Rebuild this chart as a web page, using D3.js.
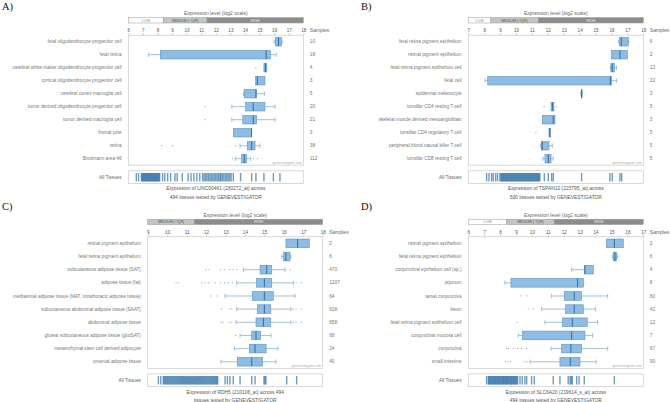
<!DOCTYPE html>
<html><head><meta charset="utf-8">
<script src="https://cdn.jsdelivr.net/npm/d3@7"></script>
<style>html,body{margin:0;padding:0;background:#fff;}svg{display:block;}</style>
</head><body>
<script>
// ---------- DATA ----------
const thresholds = [8.42, 11.4];           // LOW | MEDIUM | HIGH boundaries (log2)
const legendNames = ["LOW", "MEDIUM (~IQR)", "HIGH"];

// Panel A – LINC00461
const aLabels = ["fetal oligodendrocyte progenitor cell","fetal retina","cerebral white matter oligodendrocyte progenitor cell","cortical oligodendrocyte progenitor cell","cerebral cortex macroglia cell","tumor derived oligodendrocyte progenitor cell","tumor derived macroglia cell","frontal pole","retina","Brodmann area 46"];
const aSamples = [10,18,4,3,5,20,21,3,38,112];
const aStats = [[16.0,16.08,16.3,16.5,16.55],[7.4,8.2,15.45,15.75,16.15],[15.3,15.3,15.4,15.5,15.5],[14.73,14.73,14.85,15.37,15.37],[13.9,13.95,14.75,14.8,15.33],[13.1,14.05,14.57,15.37,16.06],[13.1,13.85,14.57,14.8,16.06],[13.2,13.2,14.45,14.46,14.46],[13.66,14.16,14.46,14.69,15.03],[13.34,13.77,13.95,14.11,14.39]];
const aOutliers = [[],[],[14.75],[],[],[11.26],[11.26],[],[8.29,9.04,13.36],[13.13,14.57,14.87]];
const aAll = [6.55,6.7,6.9,6.95,7.0,7.05,7.1,7.15,7.2,7.25,7.3,7.35,7.4,7.45,7.5,7.55,7.6,7.65,7.7,7.75,7.8,7.85,7.9,7.95,8.0,8.05,8.1,8.15,8.35,8.5,8.7,8.9,9.2,9.35,9.7,10.1,10.3,10.5,10.7,10.9,11.1,11.2,11.3,11.4,11.5,11.6,11.7,11.8,11.9,12.0,12.1,12.2,12.3,12.35,12.45,12.55,12.65,12.75,12.85,12.95,13.05,13.2,13.7,14.46,14.75,15.3,15.95,16.4];

// Panel B – TSPAN10
const bLabels = ["fetal retina pigment epithelium","retinal pigment epithelium","fetal retina pigment epithelium cell","fetal cell","epidermal melanocyte","tonsillar CD4 resting T-cell","skeletal muscle derived mesoangioblast","tonsillar CD4 regulatory T-cell","peripheral blood natural killer T-cell","tonsillar CD8 resting T-cell"];
const bSamples = [6,2,12,22,3,5,3,5,5,5];
const bStats = [[16.45,16.5,16.62,17.05,17.08],[16.0,16.0,16.53,17.0,17.0],[15.93,15.97,16.05,16.18,16.32],[8.05,8.22,15.93,16.0,16.32],[14.08,14.1,14.12,14.14,14.16],[12.2,12.2,12.3,12.38,12.38],[11.65,11.65,12.34,12.45,12.45],[12.07,12.07,12.12,12.17,12.17],[11.55,11.6,11.65,12.07,12.28],[11.7,11.82,12.03,12.2,12.34]];
const bOutliers = [[],[],[],[],[],[11.76,12.55],[],[11.25],[],[]];
const bAll = [8.15,8.3,8.47,8.57,8.72,8.84,8.99,9.05,9.1,9.15,9.2,9.25,9.3,9.35,9.4,9.45,9.5,9.55,9.6,9.65,9.7,9.75,9.8,9.85,9.9,9.95,10.0,10.05,10.1,10.15,10.2,10.25,10.3,10.35,10.4,10.45,10.5,10.55,10.6,10.65,10.7,10.75,10.8,10.85,10.9,10.95,11.0,11.05,11.1,11.15,11.2,11.25,11.3,11.35,11.4,11.45,11.5,11.78,12.03,12.24,12.34,14.12,15.9,16.05,16.53,16.64];

// Panel C – RDH5
const cLabels = ["retinal pigment epithelium","fetal retina pigment epithelium","subcutaneous adipose tissue (SAT)","adipose tissue (fat)","mediastinal adipose tissue (MAT, intrathoracic adipose tissue)","subcutaneous abdominal adipose tissue (SAAT)","abdominal adipose tissue","gluteal subcutaneous adipose tissue (glutSAT)","mesenchymal stem cell derived adipocyte","omental adipose tissue"];
const cSamples = [2,6,470,1207,64,618,658,69,24,40];
const cStats = [[16.11,16.11,16.71,17.31,17.31],[15.9,15.98,16.11,16.32,16.36],[13.92,14.78,15.12,15.38,16.06],[13.58,14.6,15.0,15.38,16.49],[12.98,14.38,15.0,15.46,16.58],[13.58,14.64,15.0,15.33,16.37],[13.54,14.57,14.95,15.33,16.37],[13.75,14.35,14.57,14.81,15.34],[13.46,14.23,14.52,15.09,15.69],[12.77,13.61,14.35,14.91,15.6]];
const cOutliers = [[],[],[12.0,12.17,12.75,12.94,13.23,13.4,13.6,16.32],[10.46,10.58,11.78,11.95,12.12,12.46,12.75,12.95,13.15,13.35,16.63,16.89],[12.24,12.58],[12.8,13.2,13.32,16.49,16.63,16.89],[12.75,12.86,13.2,13.32,16.49,16.63,16.89],[13.53],[],[]];
const cAll = [9.55,9.67,9.8,9.85,9.9,9.95,10.0,10.05,10.1,10.15,10.2,10.25,10.3,10.35,10.4,10.45,10.5,10.55,10.6,10.65,10.7,10.75,10.8,10.85,10.9,10.95,11.0,11.05,11.1,11.15,11.2,11.25,11.3,11.35,11.4,11.45,11.5,11.55,11.6,11.65,11.7,11.75,11.8,11.85,11.9,11.95,12.0,12.05,12.1,12.15,12.2,12.25,12.3,12.35,12.4,12.45,12.5,12.55,12.6,12.98,13.1,13.23,13.4,13.75,14.35,14.52,14.98,15.03,15.08,16.15,16.66];

// Panel D – SLC6A20
const dLabels = ["retinal pigment epithelium","fetal retina pigment epithelium","conjunctival epithelium cell (sp.)","jejunum","tarsal conjunctiva","ileum","fetal retina pigment epithelium cell","conjunctival mucosa cell","conjunctiva","small intestine"];
const dSamples = [2,6,4,8,60,42,12,7,67,90];
const dStats = [[14.69,14.69,15.18,15.74,15.74],[15.05,15.11,15.22,15.32,15.38],[12.5,13.29,13.33,13.86,13.86],[8.3,8.68,12.87,13.23,13.23],[11.24,12.03,12.66,13.12,14.76],[10.61,12.12,12.66,13.23,14.0],[10.82,11.91,12.54,13.48,14.13],[9.14,9.41,12.5,13.33,13.81],[11.2,11.87,12.45,13.12,14.76],[9.88,11.76,12.41,13.02,14.03]];
const dOutliers = [[],[],[],[],[9.29,9.67],[9.77,10.08],[9.04],[],[8.41,8.52,8.83,9.1,9.35,9.67],[8.35,8.47,8.66,9.52,9.67]];
const dAll = [7.15,7.26,7.3,7.35,7.4,7.45,7.5,7.55,7.6,7.65,7.7,7.75,7.8,7.85,7.9,7.95,8.0,8.05,8.1,8.15,8.2,8.25,8.3,8.35,8.4,8.45,8.5,8.55,8.6,8.65,8.7,8.75,8.8,8.85,8.9,8.95,9.0,9.05,9.1,9.25,9.39,9.56,9.67,9.98,10.15,11.34,11.76,12.28,12.4,12.47,12.54,12.81,12.96,13.29,15.18];

const aTicks = d3.range(6, 19), bTicks = d3.range(7, 19), cTicks = d3.range(9, 19), dTicks = d3.range(6, 18);

const panels = [
  {tag:"A)", labels:aLabels, samples:aSamples, stats:aStats, outliers:aOutliers, all:aAll, domain:[6,18], ticks:aTicks,
   caption:["Expression of LINC00461 (230272_at) across","494 tissues tested by GENEVESTIGATOR"],
   ox:0, x0:128.3, x1:303.3, top:35.2, step:13.0, tagX:2, tagY:10},
  {tag:"B)", labels:bLabels, samples:bSamples, stats:bStats, outliers:bOutliers, all:bAll, domain:[7,18], ticks:bTicks,
   caption:["Expression of TSPAN10 (223795_at) across","500 tissues tested by GENEVESTIGATOR"],
   ox:335, x0:468.3, x1:643.3, top:35.2, step:13.0, tagX:361, tagY:10},
  {tag:"C)", labels:cLabels, samples:cSamples, stats:cStats, outliers:cOutliers, all:cAll, domain:[9,18], ticks:cTicks,
   caption:["Expression of RDH5 (210106_at) across 494","tissues tested by GENEVESTIGATOR"],
   ox:0, x0:147.7, x1:322.7, top:236.8, step:13.15, tagX:2, tagY:210},
  {tag:"D)", labels:dLabels, samples:dSamples, stats:dStats, outliers:dOutliers, all:dAll, domain:[6,17], ticks:dTicks,
   caption:["Expression of SLC6A20 (219614_s_at) across","494 tissues tested by GENEVESTIGATOR"],
   ox:335, x0:468.3, x1:643.3, top:236.8, step:13.15, tagX:361, tagY:210}
];

// ---------- DRAW ----------
const W = 670, H = 402;
const svg = d3.select("body").append("svg").attr("width", W).attr("height", H)
  .style("font-family", "'Liberation Sans', Arial, Helvetica, sans-serif");

const boxFill = "#8fbce2", boxStroke = "#5a94c6", medColor = "#2d6da6", whiskColor = "#77a5cf";
const txtGray = "#777";

panels.forEach(p => {
  const g = svg.append("g");
  const x = d3.scaleLinear().domain(p.domain).range([p.x0, p.x1]);
  const n = p.labels.length;
  const bottom = p.top + n * p.step;
  const y = d3.scaleBand().domain(d3.range(n)).range([p.top, bottom]);
  const bh = p.step * 0.66;
  const cx = (p.x0 + p.x1) / 2;

  // panel tag
  g.append("text").attr("x", p.tagX).attr("y", p.tagY).text(p.tag)
    .style("font-family", "'Liberation Serif', 'DejaVu Serif', serif").style("font-size", "10.5px").attr("fill", "#111");

  // legend title
  g.append("text").attr("x", cx).attr("y", p.top - 19.8).attr("text-anchor", "middle")
    .style("font-size", "5px").attr("fill", "#666").text("Expression level (log2 scale)");

  // legend bar
  const lgY = p.top - 17.6, lgH = 5.4;
  const segs = [
    {a:p.domain[0], b:thresholds[0], fill:"#ffffff", tc:"#888", name:legendNames[0]},
    {a:thresholds[0], b:thresholds[1], fill:"#c4c4c4", tc:"#555", name:legendNames[1]},
    {a:thresholds[1], b:p.domain[1], fill:"#8c8c8c", tc:"#eee", name:legendNames[2]}
  ].map(s => ({...s, a:Math.max(s.a, p.domain[0]), b:Math.min(s.b, p.domain[1])})).filter(s => s.b > s.a);
  segs.forEach(s => {
    g.append("rect").attr("x", x(s.a)).attr("y", lgY).attr("width", x(s.b) - x(s.a)).attr("height", lgH)
      .attr("fill", s.fill).attr("stroke", "#9a9a9a").attr("stroke-width", 0.5);
    g.append("text").attr("x", (x(s.a) + x(s.b)) / 2).attr("y", lgY + lgH / 2 + 1.3).attr("text-anchor", "middle")
      .style("font-size", "3.6px").attr("fill", s.tc).text(s.name);
  });

  // ticks
  const axis = d3.axisTop(x).tickValues(p.ticks).tickSize(1.6).tickPadding(1.2).tickFormat(d3.format("d"));
  const ax = g.append("g").attr("transform", `translate(0,${p.top - 0.5})`).call(axis);
  ax.select(".domain").remove();
  ax.selectAll("line").attr("stroke", "#888").attr("stroke-width", 0.5);
  ax.selectAll("text").style("font-size", "4.6px").attr("fill", "#555").style("font-family", "'Liberation Sans', Arial, sans-serif");

  // Samples header
  g.append("text").attr("x", p.x1 + 6.5).attr("y", p.top - 3).style("font-size", "5px").attr("fill", "#666").text("Samples");

  // plot frame
  g.append("rect").attr("x", p.x0).attr("y", p.top).attr("width", p.x1 - p.x0).attr("height", bottom - p.top)
    .attr("fill", "none").attr("stroke", "#c8c8c8").attr("stroke-width", 0.7);

  // row labels & samples
  p.labels.forEach((lab, i) => {
    const yc = y(i) + y.bandwidth() / 2;
    g.append("text").attr("x", p.x0 - 6.8).attr("y", yc + 1.6).attr("text-anchor", "end")
      .style("font-size", "4.7px").attr("fill", txtGray).text(lab);
    g.append("text").attr("x", p.x1 + 6.5).attr("y", yc + 1.6)
      .style("font-size", "4.8px").attr("fill", txtGray).text(p.samples[i]);
  });

  // boxes
  p.stats.forEach((s, i) => {
    const [wl, q1, md, q3, wh] = s;
    const yc = y(i) + y.bandwidth() / 2;
    const bg = g.append("g");
    if (wl < q1) {
      bg.append("line").attr("x1", x(wl)).attr("x2", x(q1)).attr("y1", yc).attr("y2", yc).attr("stroke", whiskColor).attr("stroke-width", 0.7);
      bg.append("line").attr("x1", x(wl)).attr("x2", x(wl)).attr("y1", yc - 2.2).attr("y2", yc + 2.2).attr("stroke", whiskColor).attr("stroke-width", 0.7);
    }
    if (wh > q3) {
      bg.append("line").attr("x1", x(q3)).attr("x2", x(wh)).attr("y1", yc).attr("y2", yc).attr("stroke", whiskColor).attr("stroke-width", 0.7);
      bg.append("line").attr("x1", x(wh)).attr("x2", x(wh)).attr("y1", yc - 2.2).attr("y2", yc + 2.2).attr("stroke", whiskColor).attr("stroke-width", 0.7);
    }
    bg.append("rect").attr("x", x(q1)).attr("y", yc - bh / 2).attr("width", Math.max(0.8, x(q3) - x(q1))).attr("height", bh)
      .attr("fill", boxFill).attr("stroke", boxStroke).attr("stroke-width", 0.6);
    bg.append("line").attr("x1", x(md)).attr("x2", x(md)).attr("y1", yc - bh / 2).attr("y2", yc + bh / 2)
      .attr("stroke", medColor).attr("stroke-width", 1);
    p.outliers[i].forEach(v => {
      bg.append("rect").attr("x", x(v) - 0.5).attr("y", yc - 0.5).attr("width", 1).attr("height", 1).attr("fill", "#6d9cc6");
    });
  });

  // watermark
  g.append("text").attr("x", p.x1 - 1.5).attr("y", bottom - 1.3).attr("text-anchor", "end")
    .style("font-size", "3.4px").attr("fill", "#aaa").text("genevestigator.com");

  // All Tissues strip
  const sy = bottom + 5.6, sh = 12.8;
  g.append("rect").attr("x", p.x0).attr("y", sy).attr("width", p.x1 - p.x0).attr("height", sh)
    .attr("fill", "#fff").attr("stroke", "#c8c8c8").attr("stroke-width", 0.7);
  g.append("g").selectAll("line").data(p.all).join("line")
    .attr("x1", d => x(d)).attr("x2", d => x(d)).attr("y1", sy + 2.2).attr("y2", sy + sh - 2.2)
    .attr("stroke", "#2a6ca4").attr("stroke-width", 1.4).attr("stroke-opacity", 0.68);
  g.append("text").attr("x", p.x0 - 6.8).attr("y", sy + sh / 2 + 1.6).attr("text-anchor", "end")
    .style("font-size", "4.7px").attr("fill", "#666").text("All Tissues");

  // caption
  p.caption.forEach((c, k) => {
    g.append("text").attr("x", cx).attr("y", bottom + 25.2 + k * 8.2).attr("text-anchor", "middle")
      .style("font-size", "4.9px").attr("fill", "#555").text(c);
  });
});
</script>
</body></html>
